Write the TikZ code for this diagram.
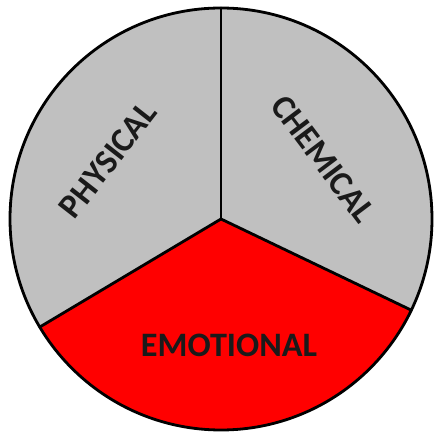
\documentclass[tikz,border=0pt]{standalone}
\usepackage{fontspec}
\setmainfont{Carlito}
\usetikzlibrary{calc}
\definecolor{sectgray}{HTML}{C0C0C0}
\definecolor{sectred}{HTML}{FF0000}
\definecolor{ink}{HTML}{1A1A1A}
\tikzset{
  sector/.style={fill=#1,draw=none},
  rim/.style={draw=black,line width=1.6pt,line join=round,line cap=round},
  slabel/.style={font=\fontsize{19.5}{19.5}\selectfont\bfseries,text=ink,
    inner sep=0pt},
}

\begin{document}
\begin{tikzpicture}[x=0.02cm,y=0.02cm]
  \useasboundingbox (0,0) rectangle (435,436);
  \coordinate (c) at (221,217);
  \coordinate (top) at ($(c)+(90:211)$);
  \coordinate (ll) at ($(c)+(210.8:211)$);
  \coordinate (lr) at ($(c)+(334.4:211)$);
  % three slices
  \fill[sector=sectgray] (c) -- (top) arc[start angle=90,end angle=210.8,radius=211] -- cycle;
  \fill[sector=sectgray] (c) -- (lr) arc[start angle=-25.6,end angle=90,radius=211] -- cycle;
  \fill[sector=sectred] (c) -- (ll) arc[start angle=210.8,end angle=334.4,radius=211] -- cycle;
  \draw[rim] (c) circle[radius=211];
  \draw[rim] (c) -- (top);
  \draw[rim] (c) -- (ll);
  \draw[rim] (c) -- (lr);
  % labels
  \node[slabel,rotate=52] (phys) at (108,276) {PHYSICAL};
  \node[slabel,rotate=-53] (chem) at (323,277) {CHEMICAL};
  \node[slabel] (emo) at (229,91) {EMOTIONAL};
\end{tikzpicture}
\end{document}
